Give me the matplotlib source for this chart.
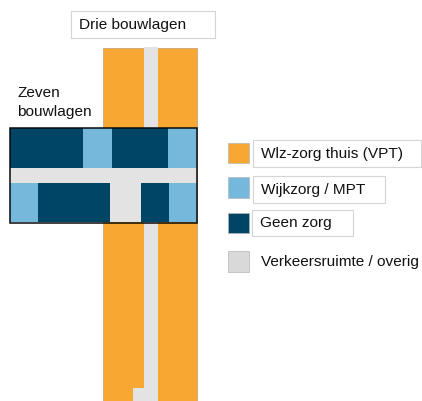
import matplotlib
matplotlib.use('Agg')
import matplotlib.pyplot as plt
from matplotlib.patches import Rectangle

plt.rcParams['font.family'] = ['Liberation Sans', 'DejaVu Sans']

ORANGE = '#f8a832'
LIGHT = '#76b8dc'
DARK = '#004466'
GREY = '#e3e3e3'

# (left, right, top, bottom) in picture pixels
drie_orange = [(103, 197, 48, 401)]
drie_grey = [(143.5, 158, 47, 401), (133, 158, 388, 401)]

zeven_dark = [(10, 83, 128, 168), (111.5, 168, 128, 168), (38, 110, 183, 222), (141, 169, 183, 222)]
zeven_light = [(83, 111.5, 128, 168), (168, 196.5, 128, 168), (10, 38, 183, 222), (169, 196.5, 183, 222)]
zeven_grey = [(10, 196.5, 168, 183), (110, 141, 183, 222)]
zeven_frame = (9.5, 197, 127.5, 222.5)

legend_labels = ['Wlz-zorg thuis (VPT)', 'Wijkzorg / MPT', 'Geen zorg', 'Verkeersruimte / overig']
legend_colors = [ORANGE, LIGHT, DARK, '#d9d9d9']
legend_swatches = [(228, 248.5, 143, 163), (228, 248.5, 177, 197.5), (228, 248.5, 213, 233), (227.5, 248.5, 250.5, 271.5)]
legend_boxes = [(253, 421, 139.5, 167), (253, 385, 175.5, 203), (251.5, 353, 209.5, 236), None]
legend_text_x = [261, 261, 260, 261]
legend_text_y = [154, 190, 223, 262]


def rect(ax, r, color, edge='none', lw=0, zorder=2):
    left, right, top, bottom = r
    ax.add_patch(Rectangle((left, top), right - left, bottom - top, facecolor=color,
                           edgecolor=edge, linewidth=lw, zorder=zorder))


fig = plt.figure(figsize=(4.22, 4.01), dpi=100)
ax = fig.add_axes([0, 0, 1, 1])
ax.set_xlim(0, 422)
ax.set_ylim(401, 0)
ax.axis('off')

for r in drie_orange:
    rect(ax, r, ORANGE, edge='#c9a878', lw=0.6, zorder=1)
for r in drie_grey:
    rect(ax, r, GREY, zorder=2)

for r in zeven_dark:
    rect(ax, r, DARK, zorder=3)
for r in zeven_light:
    rect(ax, r, LIGHT, zorder=3)
for r in zeven_grey:
    rect(ax, r, GREY, zorder=3)
rect(ax, zeven_frame, 'none', edge='#0a0a0a', lw=1.1, zorder=4)

# titles
rect(ax, (70.5, 215, 11, 38), 'white', edge='#d4d4d4', lw=0.8)
ax.text(79, 25, 'Drie bouwlagen', fontsize=11.1, color='#111111', va='center', ha='left')
ax.text(17, 93, 'Zeven', fontsize=11.1, color='#111111', va='center', ha='left')
ax.text(17, 112, 'bouwlagen', fontsize=11.1, color='#111111', va='center', ha='left')

# legend
for lab, col, sw, box, tx, ty in zip(legend_labels, legend_colors, legend_swatches,
                                     legend_boxes, legend_text_x, legend_text_y):
    rect(ax, sw, col, edge='#b5b5b5', lw=0.5)
    if box is not None:
        rect(ax, box, 'white', edge='#d4d4d4', lw=0.8)
    ax.text(tx, ty, lab, fontsize=11.1, color='#111111', va='center', ha='left', zorder=5)

fig.savefig('out.png', dpi=100)
